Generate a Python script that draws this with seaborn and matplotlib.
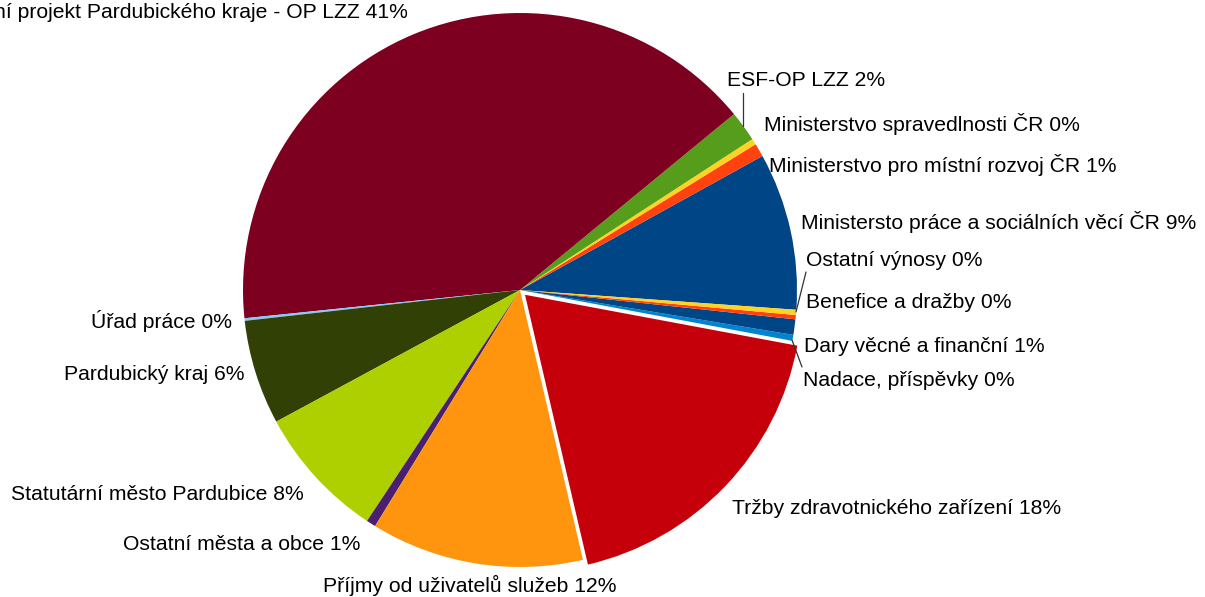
import numpy as np
import matplotlib
matplotlib.use("Agg")
import matplotlib.pyplot as plt
import seaborn as sns

# data, counter-clockwise from the MPSV slice
names = [
    "Ministersto práce a sociálních věcí ČR",
    "Ministerstvo pro místní rozvoj ČR",
    "Ministerstvo spravedlnosti ČR",
    "ESF-OP LZZ",
    "Individuální projekt Pardubického kraje - OP LZZ",
    "Úřad práce",
    "Pardubický kraj",
    "Statutární město Pardubice",
    "Ostatní města a obce",
    "Příjmy od uživatelů služeb",
    "Tržby zdravotnického zařízení",
    "Nadace, příspěvky",
    "Dary věcné a finanční",
    "Benefice a dražby",
    "Ostatní výnosy",
]
values = [9.17, 0.78, 0.35, 1.78, 40.65, 0.15, 6.1, 7.8, 0.55, 12.4, 18.4, 0.35, 0.9, 0.25, 0.3]
colors = ["#004586", "#ff420e", "#ffd320", "#579d1c", "#7e0021", "#83caff", "#314004",
          "#aecf00", "#4b1f6f", "#ff950e", "#c5000b", "#0084d1", "#004586", "#ff420e", "#ffd320"]

# label anchor in pixels (x, y, ha)
label_pos = [
    (801, 222, "left"), (769, 165, "left"), (764, 124, "left"), (727, 80, "left"),
    (408, 12, "right"), (232, 321, "right"), (244, 375, "right"), (304, 494, "right"),
    (360, 544, "right"), (470, 585, "center"), (732, 509, "left"), (803, 381, "left"),
    (804, 346, "left"), (806, 302, "left"), (806, 260, "left"),
]

W, H = 1205, 597
sns.set_theme(style="white")
plt.rcParams["font.family"] = ["Liberation Sans", "DejaVu Sans"]

fig = plt.figure(figsize=(W / 100, H / 100), dpi=100)
cx, cy, r = 520, 290, 277
ax = fig.add_axes([(cx - r) / W, (H - cy - r) / H, 2 * r / W, 2 * r / H])

explode = [0.025 if n.startswith("Tržby") else 0 for n in names]
ax.pie(values, colors=colors, startangle=-4.1, counterclock=True, explode=explode,
       radius=1, wedgeprops=dict(linewidth=0))
ax.set_xlim(-1, 1)
ax.set_ylim(-1, 1)
ax.set_aspect("equal")
ax.axis("off")


def fx(x, y):
    return x / W, 1 - y / H


total = sum(values)
for n, v, (x, y, ha) in zip(names, values, label_pos):
    fig.text(*fx(x, y), f"{n} {v / total * 100:.0f}%", ha=ha, va="center",
             fontsize=15.2, color="black")

# leader lines
lines = [((743, 93), (743, 126)), ((806, 272), (796, 312)), ((792, 340), (802, 367))]
for (x0, y0), (x1, y1) in lines:
    a = fx(x0, y0)
    b = fx(x1, y1)
    fig.add_artist(plt.Line2D([a[0], b[0]], [a[1], b[1]], color="#333333", lw=0.9,
                              transform=fig.transFigure))

fig.savefig("out.png", dpi=100)
